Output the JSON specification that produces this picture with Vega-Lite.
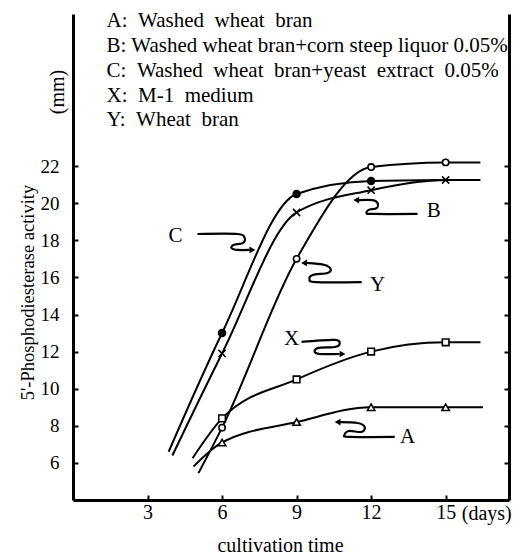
{
  "$schema": "https://vega.github.io/schema/vega-lite/v6.json",
  "width": 436,
  "height": 486,
  "autosize": "none",
  "padding": {"left": 73, "top": 14, "right": 14, "bottom": 57},
  "background": "white",
  "config": {
    "view": {"stroke": null},
    "font": "Liberation Serif",
    "axis": {
      "grid": false,
      "domainColor": "black",
      "tickColor": "black",
      "labelColor": "black",
      "titleColor": "black",
      "labelFont": "Liberation Serif",
      "titleFont": "Liberation Serif",
      "titleFontWeight": "normal"
    }
  },
  "datasets": {
    "series": [
      {"s": "A", "d": 4.85, "v": 5.8, "m": 0},
      {"s": "A", "d": 6, "v": 7.1, "m": 1},
      {"s": "A", "d": 9, "v": 8.2, "m": 1},
      {"s": "A", "d": 12, "v": 9.0, "m": 1},
      {"s": "A", "d": 15, "v": 9.0, "m": 1},
      {"s": "A", "d": 16.5, "v": 9.0, "m": 0},
      {"s": "X", "d": 4.81, "v": 6.25, "m": 0},
      {"s": "X", "d": 6, "v": 8.4, "m": 1},
      {"s": "X", "d": 9, "v": 10.5, "m": 1},
      {"s": "X", "d": 12, "v": 12.0, "m": 1},
      {"s": "X", "d": 15, "v": 12.5, "m": 1},
      {"s": "X", "d": 16.4, "v": 12.5, "m": 0},
      {"s": "Y", "d": 5.05, "v": 5.45, "m": 0},
      {"s": "Y", "d": 6, "v": 7.9, "m": 1},
      {"s": "Y", "d": 9, "v": 17.0, "m": 1},
      {"s": "Y", "d": 12, "v": 21.95, "m": 1},
      {"s": "Y", "d": 15, "v": 22.2, "m": 1},
      {"s": "Y", "d": 16.4, "v": 22.2, "m": 0},
      {"s": "B", "d": 4.0, "v": 6.4, "m": 0},
      {"s": "B", "d": 6, "v": 11.9, "m": 1},
      {"s": "B", "d": 9, "v": 19.5, "m": 1},
      {"s": "B", "d": 12, "v": 20.7, "m": 1},
      {"s": "B", "d": 15, "v": 21.25, "m": 1},
      {"s": "B", "d": 16.4, "v": 21.25, "m": 0},
      {"s": "C", "d": 3.85, "v": 6.6, "m": 0},
      {"s": "C", "d": 6, "v": 13.0, "m": 1},
      {"s": "C", "d": 9, "v": 20.5, "m": 1},
      {"s": "C", "d": 12, "v": 21.2, "m": 1},
      {"s": "C", "d": 15, "v": 21.25, "m": 0}
    ],
    "squiggles": [
      {"id": "C", "o": 1, "d": 5.01, "v": 18.34},
      {"id": "C", "o": 2, "d": 6.63, "v": 18.34},
      {"id": "C", "o": 3, "d": 6.91, "v": 18.12},
      {"id": "C", "o": 4, "d": 6.83, "v": 17.85},
      {"id": "C", "o": 5, "d": 6.46, "v": 17.75},
      {"id": "C", "o": 6, "d": 6.38, "v": 17.58},
      {"id": "C", "o": 7, "d": 6.63, "v": 17.48},
      {"id": "C", "o": 8, "d": 7.11, "v": 17.48},
      {"id": "B", "o": 1, "d": 11.5, "v": 20.17},
      {"id": "B", "o": 2, "d": 12.06, "v": 20.17},
      {"id": "B", "o": 3, "d": 12.26, "v": 20.01},
      {"id": "B", "o": 4, "d": 12.22, "v": 19.74},
      {"id": "B", "o": 5, "d": 11.9, "v": 19.64},
      {"id": "B", "o": 6, "d": 11.82, "v": 19.47},
      {"id": "B", "o": 7, "d": 12.06, "v": 19.42},
      {"id": "B", "o": 8, "d": 13.87, "v": 19.42},
      {"id": "Y", "o": 1, "d": 9.4, "v": 16.78},
      {"id": "Y", "o": 2, "d": 10.13, "v": 16.67},
      {"id": "Y", "o": 3, "d": 10.37, "v": 16.45},
      {"id": "Y", "o": 4, "d": 10.25, "v": 16.24},
      {"id": "Y", "o": 5, "d": 9.65, "v": 16.13},
      {"id": "Y", "o": 6, "d": 9.52, "v": 15.91},
      {"id": "Y", "o": 7, "d": 9.77, "v": 15.75},
      {"id": "Y", "o": 8, "d": 11.62, "v": 15.75},
      {"id": "X", "o": 1, "d": 9.2, "v": 12.52},
      {"id": "X", "o": 2, "d": 10.53, "v": 12.63},
      {"id": "X", "o": 3, "d": 10.73, "v": 12.41},
      {"id": "X", "o": 4, "d": 10.53, "v": 12.25},
      {"id": "X", "o": 5, "d": 9.85, "v": 12.19},
      {"id": "X", "o": 6, "d": 9.73, "v": 11.98},
      {"id": "X", "o": 7, "d": 9.93, "v": 11.87},
      {"id": "X", "o": 8, "d": 10.73, "v": 11.87},
      {"id": "A", "o": 1, "d": 10.75, "v": 8.2},
      {"id": "A", "o": 2, "d": 11.46, "v": 8.15},
      {"id": "A", "o": 3, "d": 11.74, "v": 7.94},
      {"id": "A", "o": 4, "d": 11.62, "v": 7.67},
      {"id": "A", "o": 5, "d": 11.1, "v": 7.72},
      {"id": "A", "o": 6, "d": 10.93, "v": 7.5},
      {"id": "A", "o": 7, "d": 11.13, "v": 7.4},
      {"id": "A", "o": 8, "d": 12.95, "v": 7.4}
    ],
    "heads": [
      {"d": 7.22, "v": 17.48, "sh": "triangle-right"},
      {"d": 11.4, "v": 20.17, "sh": "triangle-left"},
      {"d": 9.3, "v": 16.78, "sh": "triangle-left"},
      {"d": 10.85, "v": 11.87, "sh": "triangle-right"},
      {"d": 10.65, "v": 8.2, "sh": "triangle-left"}
    ],
    "letters": [
      {"t": "C", "d": 4.13, "v": 18.23},
      {"t": "B", "d": 14.52, "v": 19.58},
      {"t": "Y", "d": 12.26, "v": 15.59},
      {"t": "X", "d": 8.8, "v": 12.7},
      {"t": "A", "d": 13.47, "v": 7.4}
    ],
    "legend": [
      {"t": "A:\u2002Washed\u2002wheat\u2002bran", "d": 1.35, "v": 29.5},
      {"t": "B: Washed wheat bran+corn steep liquor 0.05%", "d": 1.35, "v": 28.15},
      {"t": "C:\u2002Washed\u2002wheat\u2002bran+yeast\u2002extract\u20020.05%", "d": 1.35, "v": 26.8},
      {"t": "X:\u2002M-1\u2002medium", "d": 1.35, "v": 25.46},
      {"t": "Y:\u2002Wheat\u2002bran", "d": 1.35, "v": 24.16}
    ],
    "extra": [
      {"t": "(days)", "d": 15.65, "v": 2.92, "a": 0},
      {"t": "(mm)", "d": -0.38, "v": 24.8, "a": 270}
    ]
  },
  "resolve": {"axis": {"x": "independent", "y": "independent"}},
  "layer": [
    {
      "data": {"name": "series"},
      "mark": {"type": "line", "interpolate": "monotone", "color": "black", "strokeWidth": 2},
      "encoding": {
        "x": {
          "field": "d", "type": "quantitative",
          "scale": {"domain": [0, 17.55], "nice": false, "zero": false},
          "axis": {
            "orient": "bottom", "values": [3, 6, 9, 12, 15],
            "domainWidth": 3, "tickSize": -5, "tickWidth": 2,
            "labelFontSize": 20, "labelPadding": 7,
            "title": "cultivation time", "titleFontSize": 20,
            "titleAnchor": null, "titleAlign": "center", "titleBaseline": "alphabetic",
            "titleX": 207, "titleY": 51
          }
        },
        "y": {
          "field": "v", "type": "quantitative",
          "scale": {"domain": [4, 30.2], "nice": false, "zero": false},
          "axis": {
            "orient": "left", "values": [6, 8, 10, 12, 14, 16, 18, 20, 22],
            "domainWidth": 3, "tickSize": -5, "tickWidth": 2,
            "labelFontSize": 19, "labelPadding": 19,
            "title": "5'-Phosphodiesterase activity", "titleFontSize": 18.5,
            "titleAngle": 270, "titleAlign": "center", "titleBaseline": "middle",
            "titleAnchor": null, "titleX": -46, "titleY": 278
          }
        },
        "detail": {"field": "s"}
      }
    },
    {
      "data": {"name": "series"},
      "mark": {"type": "rule", "opacity": 0},
      "encoding": {
        "y": {
          "field": "v", "type": "quantitative",
          "axis": {
            "orient": "right", "values": [6, 8, 10, 12, 14, 16, 18, 20, 22],
            "domainWidth": 3, "tickSize": -5, "tickWidth": 2,
            "labels": false, "title": null
          }
        }
      }
    },
    {
      "data": {"name": "series"},
      "transform": [{"filter": "datum.m == 1"}],
      "mark": {"type": "point", "stroke": "black", "strokeWidth": 1.6, "opacity": 1},
      "encoding": {
        "x": {"field": "d", "type": "quantitative", "axis": null},
        "y": {"field": "v", "type": "quantitative", "axis": null},
        "shape": {
          "field": "s", "type": "nominal", "legend": null,
          "scale": {"domain": ["A", "B", "C", "X", "Y"], "range": ["triangle-up", "M-1,-1L1,1M-1,1L1,-1", "circle", "square", "circle"]}
        },
        "fill": {
          "field": "s", "type": "nominal", "legend": null,
          "scale": {"domain": ["A", "B", "C", "X", "Y"], "range": ["white", "white", "black", "white", "white"]}
        },
        "size": {
          "field": "s", "type": "nominal", "legend": null,
          "scale": {"domain": ["A", "B", "C", "X", "Y"], "range": [55, 40, 30, 40, 34]}
        }
      }
    },
    {
      "data": {"name": "squiggles"},
      "mark": {"type": "line", "interpolate": "cardinal", "color": "black", "strokeWidth": 2.2},
      "encoding": {
        "x": {"field": "d", "type": "quantitative", "axis": null},
        "y": {"field": "v", "type": "quantitative", "axis": null},
        "detail": {"field": "id"},
        "order": {"field": "o"}
      }
    },
    {
      "data": {"name": "heads"},
      "mark": {"type": "point", "filled": true, "color": "black", "size": 45, "opacity": 1},
      "encoding": {
        "x": {"field": "d", "type": "quantitative", "axis": null},
        "y": {"field": "v", "type": "quantitative", "axis": null},
        "shape": {"field": "sh", "type": "nominal", "scale": null}
      }
    },
    {
      "data": {"name": "letters"},
      "mark": {"type": "text", "fontSize": 21, "font": "Liberation Serif", "color": "black", "align": "center", "baseline": "middle"},
      "encoding": {
        "x": {"field": "d", "type": "quantitative", "axis": null},
        "y": {"field": "v", "type": "quantitative", "axis": null},
        "text": {"field": "t"}
      }
    },
    {
      "data": {"name": "legend"},
      "mark": {"type": "text", "fontSize": 21, "font": "Liberation Serif", "color": "black", "align": "left", "baseline": "alphabetic"},
      "encoding": {
        "x": {"field": "d", "type": "quantitative", "axis": null},
        "y": {"field": "v", "type": "quantitative", "axis": null},
        "text": {"field": "t"}
      }
    },
    {
      "data": {"name": "extra"},
      "mark": {"type": "text", "fontSize": 20, "font": "Liberation Serif", "color": "black", "align": "left", "baseline": "alphabetic", "clip": false},
      "encoding": {
        "x": {"field": "d", "type": "quantitative", "axis": null},
        "y": {"field": "v", "type": "quantitative", "axis": null},
        "text": {"field": "t"},
        "angle": {"field": "a", "type": "quantitative", "scale": null}
      }
    }
  ]
}
